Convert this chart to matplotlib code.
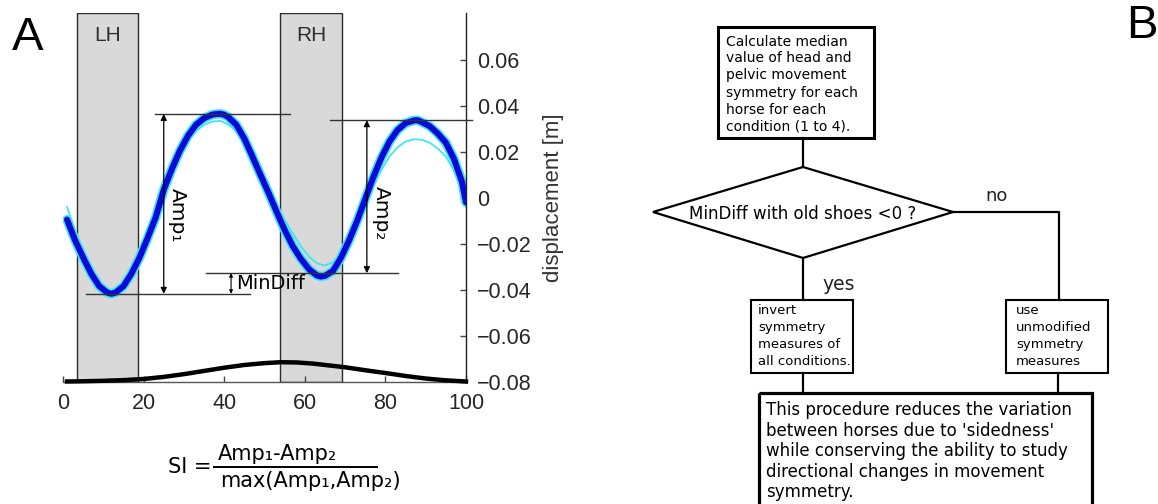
import matplotlib
matplotlib.use("Agg")
import matplotlib.pyplot as plt
from matplotlib.patches import Rectangle, Polygon

# ---------------- data ----------------
median_x = [1, 3, 5, 7, 9, 11, 12, 13, 15, 17, 19, 21, 23, 25, 27, 29, 31, 33, 35, 37, 38, 39,
            40, 41, 43, 45, 47, 49, 51, 53, 55, 57, 59, 61, 63, 64, 65, 67, 69, 71, 73, 75, 77,
            79, 81, 83, 85, 87, 88, 89, 91, 93, 95, 97, 99, 100]
median_y = [-0.0095, -0.0185, -0.026, -0.033, -0.0385, -0.0413, -0.0418, -0.0413, -0.0385,
            -0.033, -0.026, -0.0175, -0.0085, 0.0035, 0.0125, 0.0205, 0.027, 0.0318, 0.0347,
            0.0362, 0.0365, 0.0366, 0.0362, 0.0352, 0.0318, 0.0258, 0.018, 0.010, 0.0022,
            -0.006, -0.014, -0.021, -0.0265, -0.031, -0.0338, -0.0343, -0.034, -0.0318,
            -0.026, -0.0185, -0.010, -0.0005, 0.009, 0.0175, 0.0245, 0.0295, 0.0325, 0.0337,
            0.0338, 0.033, 0.0312, 0.028, 0.024, 0.017, 0.007, -0.002]

stride_x = [1, 3, 5, 7, 9, 11, 13, 15, 17, 19, 21, 23, 25, 27, 29, 31, 33, 35, 37, 39, 41,
            43, 45, 47, 49, 51, 53, 55, 57, 59, 61, 63, 65, 67, 69, 71, 73, 75, 77, 79, 81,
            83, 85, 87, 89, 91, 93, 95, 97, 99, 100]
stride_y = [-0.004, -0.014, -0.023, -0.031, -0.037, -0.0405, -0.0405, -0.037, -0.031, -0.024,
            -0.016, -0.007, 0.003, 0.012, 0.019, 0.025, 0.029, 0.0318, 0.0332, 0.0335, 0.032,
            0.029, 0.024, 0.018, 0.011, 0.004, -0.003, -0.0095, -0.0155, -0.021, -0.0255,
            -0.0285, -0.0295, -0.028, -0.024, -0.018, -0.011, -0.003, 0.005, 0.012, 0.018,
            0.022, 0.0245, 0.0255, 0.0253, 0.024, 0.0215, 0.018, 0.012, 0.003, -0.004]

vel_x = [1, 5, 10, 15, 20, 25, 30, 35, 40, 45, 50, 54, 58, 62, 66, 70, 75, 80, 85, 90, 95, 100]
vel_y = [-0.0800, -0.0799, -0.0797, -0.0794, -0.0789, -0.0780, -0.0768, -0.0754, -0.0740,
         -0.0728, -0.0720, -0.0716, -0.0717, -0.0722, -0.0730, -0.0738, -0.0751, -0.0763,
         -0.0776, -0.0787, -0.0795, -0.0800]

stance_spans = [(3.5, 18.6), (53.9, 69.2)]
stance_labels = ["LH", "RH"]

x_ticks = [0, 20, 40, 60, 80, 100]
y_ticks = [-0.08, -0.06, -0.04, -0.02, 0, 0.02, 0.04, 0.06]
y_ticklabels = ["\u22120.08", "\u22120.06", "\u22120.04", "\u22120.02", "0", "0.02", "0.04", "0.06"]

# key levels of the median curve
max1, min1, min2, max2 = 0.0365, -0.0418, -0.0328, 0.0338

box_top_lines = ["Calculate median", "value of head and", "pelvic movement",
                 "symmetry for each", "horse for each", "condition (1 to 4)."]
box_invert_lines = ["invert", "symmetry", "measures of", "all conditions."]
box_use_lines = ["use", "unmodified", "symmetry", "measures"]
box_bottom_lines = ["This procedure reduces the variation",
                    "between horses due to 'sidedness'",
                    "while conserving the ability to study",
                    "directional changes in movement",
                    "symmetry."]

# ---------------- figure ----------------
W, H = 1158, 504
fig = plt.figure(figsize=(W / 100, H / 100), dpi=100)
fig.patch.set_facecolor("white")

# overlay axes in pixel coordinates (panel B, letters, formula)
ov = fig.add_axes([0, 0, 1, 1])
ov.set_xlim(0, W)
ov.set_ylim(H, 0)
ov.axis("off")
ov.patch.set_alpha(0)

# ---- panel A ----
L, R, T, B = 63, 466, 13, 381.5
ax = fig.add_axes([L / W, 1 - B / H, (R - L) / W, (B - T) / H])
ax.set_xlim(0, 100)
ax.set_ylim(-0.08, 0.0805)
ax.patch.set_alpha(0)

tick_col = "#262626"
for (a, b), lab in zip(stance_spans, stance_labels):
    ax.axvspan(a, b, facecolor="#d9d9d9", edgecolor="#2b2b2b", lw=1.0, zorder=0)
    ax.text((a + b) / 2, 0.0705, lab, ha="center", va="center", fontsize=15,
            family="Liberation Sans", color="#2e2e2e", zorder=1)

ax.plot(median_x, median_y, color="#3fe6f2", lw=6.8, solid_capstyle="round",
        solid_joinstyle="round", zorder=2)
ax.plot(stride_x, stride_y, color="#3fe6f2", lw=1.3, zorder=2)
ax.plot(median_x, median_y, color="#0a0ad8", lw=4.4, solid_capstyle="round",
        solid_joinstyle="round", zorder=3)
ax.plot(vel_x, vel_y, color="black", lw=3.2, zorder=3, clip_on=False)

lc = "#333333"
ax.plot([22.8, 56.3], [max1, max1], color=lc, lw=1.0, zorder=4)
ax.plot([5.7, 46.4], [min1, min1], color=lc, lw=1.0, zorder=4)
ax.plot([35.6, 83.2], [min2, min2], color=lc, lw=1.0, zorder=4)
ax.plot([66.3, 101.5], [max2, max2], color=lc, lw=1.0, zorder=4, clip_on=False)

arr = dict(arrowstyle="<|-|>", color="black", lw=0.9, shrinkA=0, shrinkB=0,
           mutation_scale=9)
ax.annotate("", xy=(25.0, min1), xytext=(25.0, max1), arrowprops=arr, zorder=5)
ax.annotate("", xy=(75.4, min2), xytext=(75.4, max2), arrowprops=arr, zorder=5)
arr2 = dict(arrowstyle="<|-|>", color="black", lw=0.8, shrinkA=0, shrinkB=0,
            mutation_scale=5)
ax.annotate("", xy=(41.7, min1), xytext=(41.7, min2), arrowprops=arr2, zorder=5)

ax.text(28.4, -0.0076, "Amp\u2081", rotation=-90, ha="center", va="center",
        fontsize=14.5, zorder=6)
ax.text(79.1, -0.0067, "Amp\u2082", rotation=-90, ha="center", va="center",
        fontsize=14.5, zorder=6)
ax.text(43.0, -0.0374, "MinDiff", ha="left", va="center", fontsize=14, zorder=6)

for s in ["left", "top"]:
    ax.spines[s].set_visible(False)
ax.spines["right"].set_color("#222222")
ax.spines["bottom"].set_color("#555555")
ax.spines["right"].set_linewidth(1.0)
ax.spines["bottom"].set_linewidth(1.0)
ax.yaxis.tick_right()
ax.yaxis.set_label_position("right")
ax.set_xticks(x_ticks)
ax.set_yticks(y_ticks)
ax.set_yticklabels(y_ticklabels)
ax.tick_params(axis="both", direction="in", length=4, width=1, colors="#444444",
               labelcolor=tick_col, labelsize=15.5, labelfontfamily="Liberation Sans")
ax.tick_params(axis="y", pad=8)
ax.tick_params(axis="x", pad=8)
ax.set_ylabel("displacement [m]", fontsize=16, family="Liberation Sans",
              color="#333333", labelpad=8)

# letters
ov.text(12, 38, "A", fontsize=34, family="Liberation Sans", ha="left", va="center")
ov.text(1126, 26, "B", fontsize=34, family="Liberation Sans", ha="left", va="center")

# formula
ov.text(168, 467, "SI =", fontsize=15, ha="left", va="center")
ov.text(278, 454, "Amp\u2081-Amp\u2082", fontsize=15, ha="center", va="center")
ov.plot([214, 377], [466.5, 466.5], color="black", lw=1.4)
ov.text(310, 481, "max(Amp\u2081,Amp\u2082)", fontsize=15, ha="center", va="center")

# ---- panel B flowchart ----
k = "black"
ov.add_patch(Rectangle((717.5, 27), 156, 111, fill=False, ec=k, lw=2.2))
for i, s in enumerate(box_top_lines):
    ov.text(726, 41.5 + i * 17, s, fontsize=10, ha="left", va="center")
ov.plot([803, 803], [138, 167], color=k, lw=1.6)
ov.add_patch(Polygon([(803, 167), (953, 212), (803, 258), (653, 212)], closed=True,
                     fill=False, ec=k, lw=1.6))
ov.text(803, 214, "MinDiff with old shoes <0 ?", fontsize=12, ha="center", va="center")
ov.plot([953, 1059, 1059], [212, 212, 300], color=k, lw=1.6)
ov.text(985, 196, "no", fontsize=13, ha="left", va="center", color="#222222")
ov.plot([803, 803], [258, 300], color=k, lw=1.6)
ov.text(822, 284, "yes", fontsize=13.5, ha="left", va="center", color="#222222")

ov.add_patch(Rectangle((751, 300), 102, 73, fill=False, ec=k, lw=1.5))
for i, s in enumerate(box_invert_lines):
    ov.text(758, 310 + i * 17.3, s, fontsize=9.5, ha="left", va="center")
ov.add_patch(Rectangle((1006, 300), 102, 73, fill=False, ec=k, lw=1.5))
for i, s in enumerate(box_use_lines):
    ov.text(1016, 310 + i * 17.3, s, fontsize=9.5, ha="left", va="center")
ov.plot([803, 803], [373, 393], color=k, lw=1.6)
ov.plot([1058, 1058], [373, 393], color=k, lw=1.6)

ov.add_patch(Rectangle((759, 393), 333, 130, fill=False, ec=k, lw=2.3))
for i, s in enumerate(box_bottom_lines):
    ov.text(766, 410 + i * 20.6, s, fontsize=12, ha="left", va="center")

fig.savefig("out.png", dpi=100)
